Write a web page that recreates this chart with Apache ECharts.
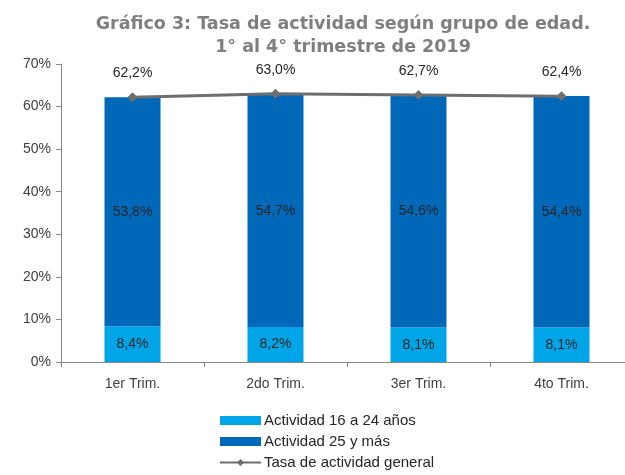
<!DOCTYPE html>
<html>
<head>
<meta charset="utf-8">
<script src="https://cdn.jsdelivr.net/npm/echarts@6/dist/echarts.min.js"></script>
<style>
html, body { margin: 0; padding: 0; background: #fff; }
#chart { width: 625px; height: 475px; }
</style>
</head>
<body>
<div id="chart"></div>
<script>
const categories = ['1er Trim.', '2do Trim.', '3er Trim.', '4to Trim.']
const jovenes = [8.4, 8.2, 8.1, 8.1]
const adultos = [53.8, 54.7, 54.6, 54.4]
const general = [62.2, 63.0, 62.7, 62.4]

const fmt = v => v.toFixed(1).replace('.', ',') + '%'
const font = 'Liberation Sans'

const chart = echarts.init(document.getElementById('chart'))

chart.setOption({
	animation: false,
	title: {
		text: 'Gráfico 3: Tasa de actividad según grupo de edad.\n1° al 4° trimestre de 2019',
		left: 338,
		textAlign: 'center',
		top: 8,
		textStyle: {
			fontFamily: 'DejaVu Sans',
			fontSize: 17.5,
			fontWeight: 'bold',
			color: '#7F7F7F',
			lineHeight: 23
		}
	},
	legend: {
		orient: 'vertical',
		left: 219,
		top: 413,
		height: 80,
		padding: 0,
		itemGap: 6,
		itemWidth: 41,
		itemHeight: 9,
		textStyle: { fontFamily: font, fontSize: 15, color: '#262626', padding: [0, 0, 0, -2] },
		data: [
			{ name: 'Actividad 16 a 24 años', icon: 'rect' },
			{ name: 'Actividad 25 y más', icon: 'rect' },
			'Tasa de actividad general'
		]
	},
	grid: { left: 61, width: 572, top: 64, bottom: 113, outerBoundsMode: 'none' },
	xAxis: {
		type: 'category',
		data: categories,
		axisLine: { lineStyle: { color: '#868686' } },
		axisTick: { show: true, length: 5, lineStyle: { color: '#868686' } },
		axisLabel: { fontFamily: font, fontSize: 14, color: '#404040', margin: 15 }
	},
	yAxis: {
		type: 'value',
		min: 0,
		max: 70,
		interval: 10,
		axisLine: { show: true, lineStyle: { color: '#868686' } },
		axisTick: { show: true, length: 5, lineStyle: { color: '#868686' } },
		splitLine: { show: false },
		axisLabel: { fontFamily: font, fontSize: 14, color: '#404040', formatter: '{value}%', margin: 10 }
	},
	series: [
		{
			name: 'Actividad 16 a 24 años',
			type: 'bar',
			stack: 'total',
			barWidth: 56,
			data: jovenes,
			itemStyle: { color: '#00A5E8' },
			label: { show: true, position: 'inside', formatter: p => fmt(p.value), fontFamily: font, fontSize: 14, color: '#262626' }
		},
		{
			name: 'Actividad 25 y más',
			type: 'bar',
			stack: 'total',
			barWidth: 56,
			data: adultos,
			itemStyle: { color: '#0068B9' },
			label: { show: true, position: 'inside', formatter: p => fmt(p.value), fontFamily: font, fontSize: 14, color: '#262626' }
		},
		{
			name: 'Tasa de actividad general',
			type: 'line',
			data: general,
			symbol: 'diamond',
			symbolSize: 10,
			lineStyle: { color: '#6E6E6E', width: 3 },
			itemStyle: { color: '#6E6E6E' },
			label: { show: true, position: 'top', distance: 12, formatter: p => fmt(p.value), fontFamily: font, fontSize: 14, color: '#262626' }
		}
	]
})
</script>
</body>
</html>
